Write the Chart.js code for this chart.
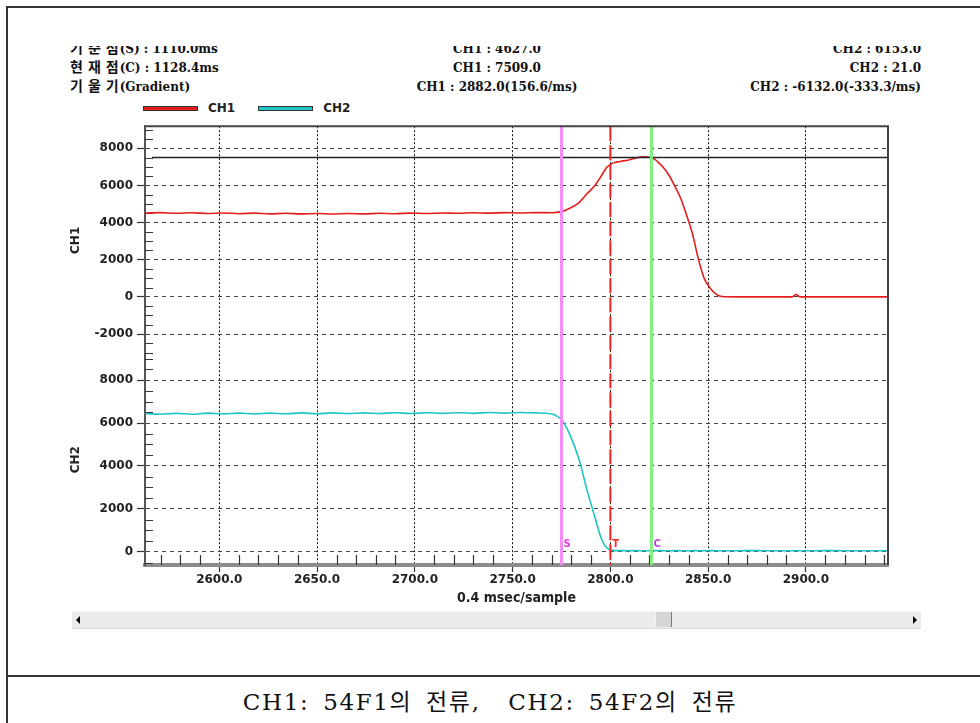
<!DOCTYPE html>
<html>
<head>
<meta charset="utf-8">
<script src="https://cdn.jsdelivr.net/npm/chart.js@4.4.1/dist/chart.umd.min.js"></script>
<style>
body { margin: 0; background: #fff; }
#page { position: relative; width: 980px; height: 723px; overflow: hidden; background: #fff; }
.rule { position: absolute; background: #333; }
#info { position: absolute; left: 0; top: 46px; width: 980px; height: 52px; overflow: hidden;
        font: bold 12px "DejaVu Serif", "Noto Sans CJK KR", serif; color: #111; }
#info .row { position: absolute; height: 19px; line-height: 19px; white-space: nowrap; }
#info .ko { font: bold 14px "Noto Sans CJK KR", sans-serif; line-height: 0; letter-spacing: 5px; margin-right: -4px; }
#legend { position: absolute; left: 143px; top: 100px; height: 16px; display: flex; align-items: center;
          font: bold 12px "DejaVu Sans", sans-serif; color: #222; }
#legend .swatch { display: inline-block; width: 53px; height: 3px; border: 1px solid #333; margin-right: 10px; }
#legend .item { display: flex; align-items: center; margin-right: 23px; }
#waveChart { position: absolute; left: 0; top: 115px; }
#scroll { position: absolute; left: 72px; top: 611px; width: 849px; height: 16px; background: #ebebeb;
          border-top: 1px solid #f6f6f6; border-bottom: 1px solid #d8d8d8; }
#scroll .arrow { position: absolute; top: 4px; width: 0; height: 0; border-top: 4px solid transparent; border-bottom: 4px solid transparent; }
#scroll .left { left: 4px; border-right: 4px solid #000; }
#scroll .right { right: 4px; border-left: 4px solid #000; }
#scroll .thumb { position: absolute; left: 583px; top: 0; width: 15px; height: 15px; background: #d6d6d6;
                 border-right: 1px solid #777; border-left: 1px solid #f4f4f4; }
#caption { position: absolute; left: 0; top: 683px; width: 980px; text-align: center; white-space: pre;
           font: 23px "DejaVu Serif", "Noto Sans CJK KR", serif; letter-spacing: 1.6px; word-spacing: 5px; color: #111; }
</style>
</head>
<body>
<div id="page">
  <div class="rule" style="left:6px;top:6px;width:2px;height:717px"></div>
  <div class="rule" style="left:6px;top:6px;width:974px;height:2px"></div>
  <div class="rule" style="left:6px;top:675px;width:974px;height:2px"></div>
  <div id="info"></div>
  <div id="legend"></div>
  <canvas id="waveChart" width="980" height="495"></canvas>
  <div id="scroll"><div class="arrow left"></div><div class="thumb"></div><div class="arrow right"></div></div>
  <div id="caption"></div>
</div>
<script>
// sample numbers (0.4 msec/sample)
var sampleNo = [2562, 2570, 2578, 2586, 2594, 2602, 2610, 2618, 2626, 2634, 2642, 2650, 2658, 2666,
    2674, 2682, 2690, 2698, 2706, 2714, 2722, 2730, 2738, 2746, 2754, 2762, 2770,
    2775, 2779, 2784, 2788, 2792, 2795, 2798, 2801, 2805, 2809, 2813, 2817, 2821,
    2824, 2827, 2830, 2833, 2836, 2839, 2842, 2845, 2848, 2851, 2854, 2857,
    2865, 2875, 2885, 2893, 2895, 2897, 2905, 2915, 2925, 2935, 2943];
// CH1: 54F1 current
var ch1Current = [4510, 4540, 4500, 4530, 4490, 4520, 4480, 4510, 4470, 4500, 4470, 4490, 4460, 4490,
    4470, 4500, 4480, 4510, 4490, 4520, 4500, 4530, 4510, 4540, 4520, 4540, 4530,
    4590, 4760, 5080, 5550, 5980, 6450, 6950, 7190, 7290, 7360, 7480, 7540, 7509,
    7300, 6980, 6550, 5950, 5300, 4400, 3400, 2050, 1000, 480, 150, 20,
    0, 0, 0, 0, 130, 0, 0, 0, 0, 0, 0];
// CH2: 54F2 current
var ch2Current = [6440, 6410, 6450, 6410, 6460, 6420, 6460, 6420, 6460, 6430, 6470, 6430, 6470, 6440,
    6470, 6440, 6480, 6440, 6480, 6450, 6480, 6450, 6490, 6460, 6490, 6470, 6420,
    6150, 5520, 4300, 2900, 1650, 720, 200, 70, 60, 55, 60, 50, 55,
    60, 55, 50, 60, 55, 50, 60, 55, 50, 60, 55, 50,
    55, 60, 50, 55, 60, 50, 55, 60, 50, 55, 60];

var channelNames = ['CH1', 'CH2'];
var channelColors = ['#e41d1d', '#1fc4c4'];
var xRange = [2562, 2942];
var ch1Range = [-3100, 9190];
var ch2Range = [-610, 9190];

// cursors S (reference), T, C (current) in samples
var cursorNames = ['S', 'T', 'C'];
var cursorSamples = [2775, 2800, 2821];
var ch1AtCursorC = 7509;

var infoLeft = ['기준점(S) : 1110.0ms', '현재점(C) : 1128.4ms', '기울기(Gradient)'];
var infoCh1 = ['CH1 : 4627.0', 'CH1 : 7509.0', 'CH1 : 2882.0(156.6/ms)'];
var infoCh2 = ['CH2 : 6153.0', 'CH2 : 21.0', 'CH2 : -6132.0(-333.3/ms)'];
var captionText = 'CH1: 54F1의 전류,  CH2: 54F2의 전류';

document.addEventListener("DOMContentLoaded", function() {
    buildInfo();
    buildLegend();
    document.getElementById('caption').textContent = captionText;
    createChart();
});

function buildInfo() {
    var info = document.getElementById('info');
    for (var i = 0; i < infoLeft.length; i++) {
        var top = (-6 + i * 19) + 'px';
        var leftText = infoLeft[i].replace(/([가-힣]+)/g, '<span class="ko">$1</span>');
        info.insertAdjacentHTML('beforeend',
            '<div class="row" style="left:70px;top:' + top + '">' + leftText + '</div>' +
            '<div class="row" style="left:297px;width:400px;text-align:center;top:' + top + '">' + infoCh1[i] + '</div>' +
            '<div class="row" style="right:59px;text-align:right;top:' + top + '">' + infoCh2[i] + '</div>');
    }
}

function buildLegend() {
    var legend = document.getElementById('legend');
    channelNames.forEach((name, i) => {
        legend.insertAdjacentHTML('beforeend',
            '<span class="item"><span class="swatch" style="background:' + channelColors[i] + '"></span>' + name + '</span>');
    });
}

// inward minor ticks, cursors and the plot frame
const scopeOverlay = {
    id: 'scopeOverlay',
    beforeDatasetsDraw(chart) {
        const {ctx, chartArea: a, scales} = chart;
        ctx.save();
        ctx.strokeStyle = '#333';
        ctx.lineWidth = 1.2;
        ctx.beginPath();
        ['yCh1', 'yCh2'].forEach(id => {
            const s = scales[id];
            for (let v = Math.ceil(s.min / 500) * 500; v <= s.max; v += 500) {
                if (v % 2000 === 0) continue;
                const y = Math.round(s.getPixelForValue(v)) + 0.5;
                ctx.moveTo(a.left, y);
                ctx.lineTo(a.left + 8, y);
            }
        });
        const sx = scales.x;
        for (let v = Math.ceil(sx.min / 10) * 10; v <= sx.max; v += 10) {
            if (v % 50 === 0) continue;
            const x = Math.round(sx.getPixelForValue(v)) + 0.5;
            ctx.moveTo(x, a.bottom);
            ctx.lineTo(x, a.bottom - 10);
        }
        ctx.stroke();
        ctx.restore();
    },
    afterDatasetsDraw(chart) {
        const {ctx, chartArea: a, scales} = chart;
        ctx.save();
        // CH1 value at cursor C
        const yRef = scales.yCh1.getPixelForValue(ch1AtCursorC);
        ctx.strokeStyle = '#222';
        ctx.lineWidth = 1.5;
        ctx.beginPath();
        ctx.moveTo(a.left + 7, yRef);
        ctx.lineTo(a.right, yRef);
        ctx.stroke();

        const lineColors = ['#f78af7', '#ff1f1f', '#7ef27e'];
        const labelColors = ['#e23ce2', '#ff2a2a', '#c63ee6'];
        cursorSamples.forEach((sample, i) => {
            const x = scales.x.getPixelForValue(sample);
            ctx.strokeStyle = lineColors[i];
            ctx.lineWidth = i === 1 ? 2 : 3;
            ctx.setLineDash(i === 1 ? [15, 4] : []);
            ctx.beginPath();
            ctx.moveTo(x, a.top);
            ctx.lineTo(x, a.bottom);
            ctx.stroke();
            ctx.setLineDash([]);
            ctx.fillStyle = labelColors[i];
            ctx.font = 'bold 10px "DejaVu Sans"';
            ctx.textBaseline = 'middle';
            ctx.fillText(cursorNames[i], x + 2, a.bottom - 21);
        });

        // frame top and right
        ctx.strokeStyle = '#444';
        ctx.lineWidth = 2;
        ctx.beginPath();
        ctx.moveTo(a.left, a.top);
        ctx.lineTo(a.right, a.top);
        ctx.lineTo(a.right, a.bottom);
        ctx.stroke();
        ctx.restore();
    }
};

// major ticks every 2000 inside the fixed range
function majorTicks(scale) {
    var ticks = [];
    for (var v = Math.ceil(scale.min / 2000) * 2000; v <= scale.max; v += 2000) {
        ticks.push({value: v});
    }
    scale.ticks = ticks;
}

function yScale(range, weight, title) {
    return {
        type: 'linear',
        position: 'left',
        stack: 'channels',
        stackWeight: weight,
        min: range[0],
        max: range[1],
        afterBuildTicks: majorTicks,
        afterFit: scale => { scale.width = 145; },
        title: {
            display: true, text: title, color: '#222',
            font: {size: 12, weight: 'bold'}, padding: {top: 69, bottom: 0}
        },
        ticks: {
            color: '#222', padding: 4,
            font: {size: 12, weight: 'bold'},
            callback: v => String(v)
        },
        grid: { color: '#444', tickColor: '#333', tickLength: 8, tickWidth: 1.2 },
        border: { display: true, color: '#555', width: 2, dash: [4, 4] }
    };
}

function createChart() {
    var ctx = document.getElementById('waveChart').getContext('2d');
    Chart.defaults.font.family = '"DejaVu Sans", sans-serif';

    const datasets = [ch1Current, ch2Current].map((values, i) => ({
        label: channelNames[i],
        data: sampleNo.map((s, j) => ({x: s, y: values[j]})),
        yAxisID: i === 0 ? 'yCh1' : 'yCh2',
        borderColor: channelColors[i],
        borderWidth: 1.6,
        pointRadius: 0,
        cubicInterpolationMode: 'monotone'
    }));

    return new Chart(ctx, {
        type: 'line',
        data: { datasets },
        plugins: [scopeOverlay],
        options: {
            responsive: false,
            animation: false,
            layout: { padding: {left: 0, right: 92, top: 6, bottom: 0} },
            plugins: { legend: {display: false}, tooltip: {enabled: false} },
            scales: {
                x: {
                    type: 'linear',
                    min: xRange[0],
                    max: xRange[1],
                    afterFit: scale => { scale.height = 45; },
                    title: {
                        display: true, text: '0.4 msec/sample', color: '#222',
                        font: {family: '"DejaVu Sans Condensed", "DejaVu Sans"', size: 14, weight: 'bold'},
                        padding: {top: 0, bottom: 3}
                    },
                    ticks: {
                        stepSize: 50, includeBounds: false, color: '#222', padding: 1,
                        maxRotation: 0, font: {size: 12, weight: 'bold'},
                        callback: v => v.toFixed(1)
                    },
                    grid: { color: '#111', tickColor: '#333', tickLength: 7, tickWidth: 1.2 },
                    border: { display: true, color: '#8c8c8c', width: 4, dash: [2, 2] }
                },
                yCh2: yScale(ch2Range, 213, channelNames[1]),
                yCh1: yScale(ch1Range, 231, channelNames[0])
            }
        }
    });
}
</script>
</body>
</html>
